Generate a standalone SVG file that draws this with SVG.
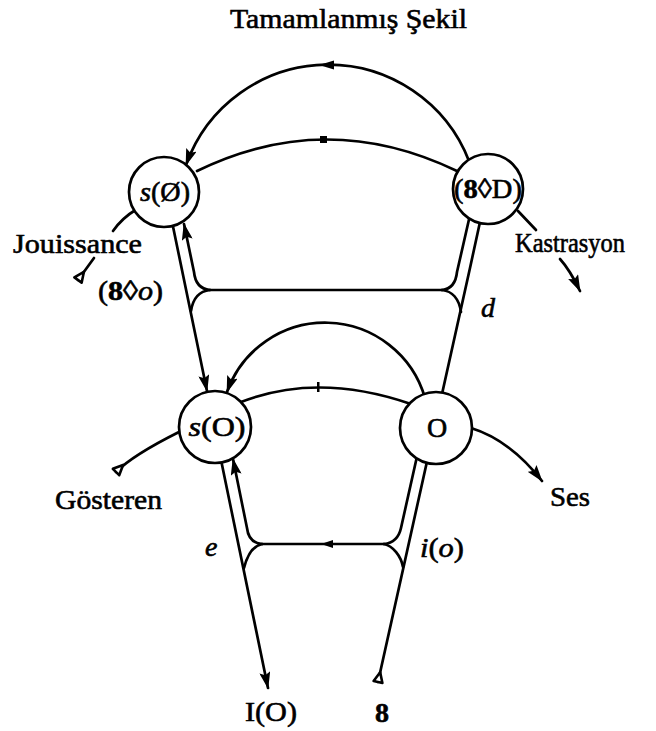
<svg xmlns="http://www.w3.org/2000/svg" width="656" height="731" viewBox="0 0 656 731">
  <style>
    .lbl { font-family: "Liberation Serif", "Times New Roman", serif; font-size: 28px; fill: #000; stroke: #000; stroke-width: 0.6px; }
    .it { font-style: italic; }
    .line { fill: none; stroke: #000; stroke-width: 2.7; stroke-linecap: round; stroke-linejoin: round; }
    .node { fill: #fff; stroke: #000; stroke-width: 2.7; }
    .mark { fill: #000; stroke: none; }
  </style>
  <defs>
    <marker id="arrow" viewBox="0 0 17 11" markerUnits="userSpaceOnUse" markerWidth="17" markerHeight="11" refX="16" refY="5.5" orient="auto">
      <path d="M0,0 L17,5.5 L0,11 L3,5.5 z" fill="#000"/>
    </marker>
    <marker id="tail" viewBox="-2 -7 14 14" markerUnits="userSpaceOnUse" markerWidth="14" markerHeight="14" refX="0" refY="0" orient="auto">
      <path d="M0,-4.5 L10,0 L0,4.5 z" fill="#fff" stroke="#000" stroke-width="2.6" stroke-linejoin="round"/>
    </marker>
  </defs>

  <!-- title -->
  <text class="lbl" x="230" y="28" font-size="27" stroke-width="0.2" textLength="237" lengthAdjust="spacingAndGlyphs">Tamamlanmış Şekil</text>

  <!-- connectors -->
  <g id="connectors">
    <!-- vector rising on the right: $ through O to (8◊D) -->
    <path class="line" d="M378,682 L470,268 L480,222" marker-start="url(#tail)"/>
    <!-- great upper arc back to s(Ø) -->
    <path class="line" d="M469,161 A151,151 0 0 0 186,165" marker-end="url(#arrow)"/>
    <polygon class="mark" points="319,65 334,60.5 334,69.5"/>
    <!-- descent on the left: s(Ø) to s(O), then s(O) to I(O) -->
    <path class="line" d="M170,212 L207,391" marker-end="url(#arrow)"/>
    <path class="line" d="M220,455 L268,688" marker-end="url(#arrow)"/>

    <!-- upper chain: Jouissance -> s(Ø) -> (8◊D) -> Kastrasyon -->
    <path class="line" d="M78,280 L94,258" marker-start="url(#tail)"/>
    <path class="line" d="M113,231 Q122,218 137,209"/>
    <path class="line" d="M197,171 Q326,108 457,171"/>
    <rect class="mark" x="320" y="136" width="7" height="7"/>
    <path class="line" d="M518,211 L536,230"/>
    <path class="line" d="M560,259 Q570,270 580,291" marker-end="url(#arrow)"/>

    <!-- lower chain: Gösteren -> s(O) -> O -> Ses -->
    <path class="line" d="M116,472 Q133,455 179,432" marker-start="url(#tail)"/>
    <path class="line" d="M241,402 Q318,372 411,404"/>
    <rect class="mark" x="317" y="382" width="2.5" height="10"/>
    <path class="line" d="M471,428 Q510,440 542,481" marker-end="url(#arrow)"/>

    <!-- lower arc from O back to s(O) -->
    <path class="line" d="M425,398 A104,104 0 0 0 227,392" marker-end="url(#arrow)"/>

    <!-- middle loop: d to (8◊o) -->
    <path class="line" d="M210,290 L442,290"/>
    <path class="line" d="M210,290 C199,289 195,282 194,272 L184,224" marker-end="url(#arrow)"/>
    <path class="line" d="M210,290 C200,291 193,298 191,311"/>
    <path class="line" d="M442,290 C452,289 456,282 457,272 L470,215"/>
    <path class="line" d="M442,290 C452,291 459,299 461,312"/>

    <!-- lower loop: e to i(o) -->
    <path class="line" d="M262,544 L384,544"/>
    <polygon class="mark" points="321,544 333,540 333,548"/>
    <path class="line" d="M262,544 C252,543 248,537 247,528 L233,459" marker-end="url(#arrow)"/>
    <path class="line" d="M262,544 C253,546 247,556 244,568"/>
    <path class="line" d="M384,544 C394,543 399,537 401,528 L418,452"/>
    <path class="line" d="M384,544 C393,546 401,556 403,567"/>
  </g>

  <!-- nodes -->
  <g id="node-s-barred-O">
    <circle class="node" cx="164" cy="192" r="35"/>
    <text class="lbl" x="165" y="201" text-anchor="middle" font-size="26" textLength="50" lengthAdjust="spacingAndGlyphs"><tspan class="it">s</tspan>(Ø)</text>
  </g>
  <g id="node-S-D">
    <circle class="node" cx="488" cy="189" r="35"/>
    <text class="lbl" x="488" y="198" text-anchor="middle" font-size="26" textLength="68" lengthAdjust="spacingAndGlyphs">(<tspan font-weight="bold">8</tspan>◊D)</text>
  </g>
  <g id="node-s-O">
    <circle class="node" cx="215" cy="427" r="36"/>
    <text class="lbl" x="217" y="436" text-anchor="middle" font-size="27" textLength="57" lengthAdjust="spacingAndGlyphs"><tspan class="it">s</tspan>(O)</text>
  </g>
  <g id="node-O">
    <circle class="node" cx="436" cy="428" r="36"/>
    <text class="lbl" x="437" y="437" text-anchor="middle" font-size="28">O</text>
  </g>

  <!-- outer labels -->
  <g id="labels">
    <text class="lbl" x="13" y="253" textLength="129" lengthAdjust="spacingAndGlyphs">Jouissance</text>
    <text class="lbl" x="98" y="300" font-size="26" textLength="65" lengthAdjust="spacingAndGlyphs">(<tspan font-weight="bold">8</tspan>◊<tspan class="it">o</tspan>)</text>
    <text class="lbl" x="515" y="252" font-size="27" textLength="110" lengthAdjust="spacingAndGlyphs">Kastrasyon</text>
    <text class="lbl it" x="481" y="317" font-size="25">d</text>
    <text class="lbl" x="55" y="509" textLength="107" lengthAdjust="spacingAndGlyphs">Gösteren</text>
    <text class="lbl" x="550" y="506" textLength="40" lengthAdjust="spacingAndGlyphs">Ses</text>
    <text class="lbl it" x="205" y="556" font-size="25">e</text>
    <text class="lbl" x="420" y="557" font-size="25" textLength="44" lengthAdjust="spacingAndGlyphs"><tspan class="it">i</tspan>(<tspan class="it">o</tspan>)</text>
    <text class="lbl" x="245" y="721" textLength="52" lengthAdjust="spacingAndGlyphs">I(O)</text>
    <text class="lbl" x="375" y="722" font-weight="bold" font-size="28">8</text>
  </g>
</svg>
